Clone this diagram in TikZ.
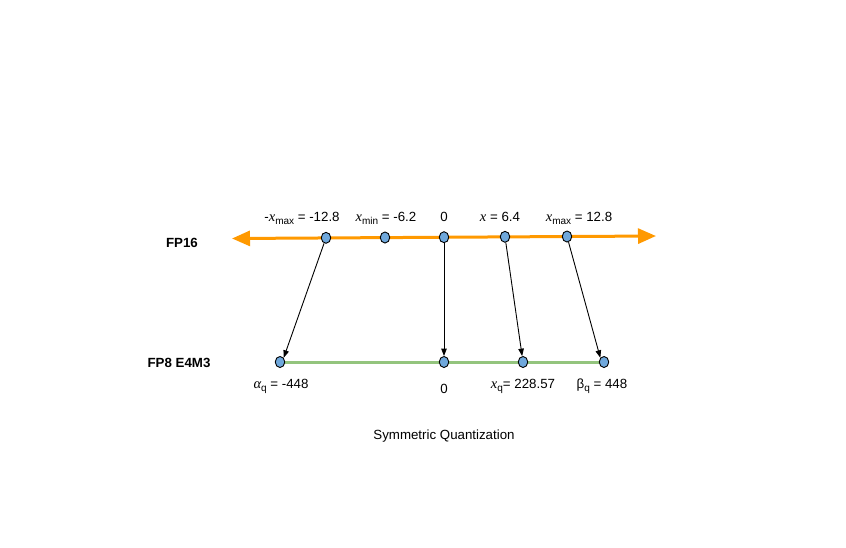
\documentclass[tikz,border=0pt]{standalone}
\usepackage{fontspec}
\setmainfont{Liberation Sans}
\newfontfamily\serifit{Liberation Serif}[ItalicFont={Liberation Serif Italic}]
\usetikzlibrary{arrows.meta,shapes.geometric}
\definecolor{orng}{HTML}{FF9900}
\definecolor{grn}{HTML}{93C47D}
\definecolor{dotblue}{HTML}{6FA8DC}
\tikzset{
  dot/.style={ellipse, draw=black, line width=0.9pt, fill=dotblue, minimum width=9.5pt, minimum height=11pt, inner sep=0pt},
  lbl/.style={font=\fontsize{13.3}{15}\selectfont, inner sep=0pt},
  side/.style={font=\fontsize{13.3}{15}\selectfont\bfseries, inner sep=0pt},
  conn/.style={draw=black, line width=0.9pt, -{Triangle[length=7.5pt,width=5.5pt]}},
}
\newcommand{\vx}{{\serifit\itshape\fontsize{14.5}{15}\selectfont x}}
\newcommand{\va}{{\serifit\itshape\fontsize{14.5}{15}\selectfont\char"03B1}}
\newcommand{\sbs}[1]{\raisebox{-0.45ex}{\fontsize{10}{10}\selectfont #1}}
\begin{document}
\begin{tikzpicture}[x=1pt,y=-1pt]
\useasboundingbox (0,0) rectangle (846,547);
% FP16 line
\coordinate (L) at (232,238.5);
\coordinate (R) at (656,236);
\draw[orng, line width=3pt, {Triangle[length=18pt,width=15pt]}-{Triangle[length=18pt,width=15pt]}] (L) -- (R);
% FP8 line
\draw[grn, line width=3pt] (280,362) -- (604,362);
% dots top
\node[dot] (a1) at (326,237.8) {};
\node[dot] (a2) at (385,237.5) {};
\node[dot] (a3) at (444,237.2) {};
\node[dot] (a4) at (505,236.8) {};
\node[dot] (a5) at (567,236.5) {};
% dots bottom
\node[dot] (b1) at (280,362) {};
\node[dot] (b2) at (444,362) {};
\node[dot] (b3) at (523,362) {};
\node[dot] (b4) at (604,362) {};
% connectors
\draw[conn] (a1) -- (b1.north east);
\draw[conn] (a3) -- (b2);
\draw[conn] (a4) -- (b3);
\draw[conn] (a5) -- (b4.north west);
% labels
\node[side] (fp16) at (182,243) {FP16};
\node[side] (fp8) at (179,363) {FP8 E4M3};
\node[lbl, anchor=base] (t1) at (302,221) {-\vx\sbs{max} = -12.8};
\node[lbl, anchor=base] (t2) at (386,221) {\vx\sbs{min} = -6.2};
\node[lbl, anchor=base] (t3) at (444,221) {0};
\node[lbl, anchor=base] (t4) at (500,221) {\vx{} = 6.4};
\node[lbl, anchor=base] (t5) at (579,221) {\vx\sbs{max} = 12.8};
\node[lbl, anchor=base] (u1) at (281,388) {\va\sbs{q} = -448};
\node[lbl, anchor=base] (u2) at (444,393) {0};
\node[lbl, anchor=base] (u3) at (523,388) {\vx\sbs{q}= 228.57};
\node[lbl, anchor=base] (u4) at (602,388) {\char"03B2\sbs{q} = 448};
\node[lbl] (cap) at (444,436) {Symmetric Quantization};
\end{tikzpicture}
\end{document}
